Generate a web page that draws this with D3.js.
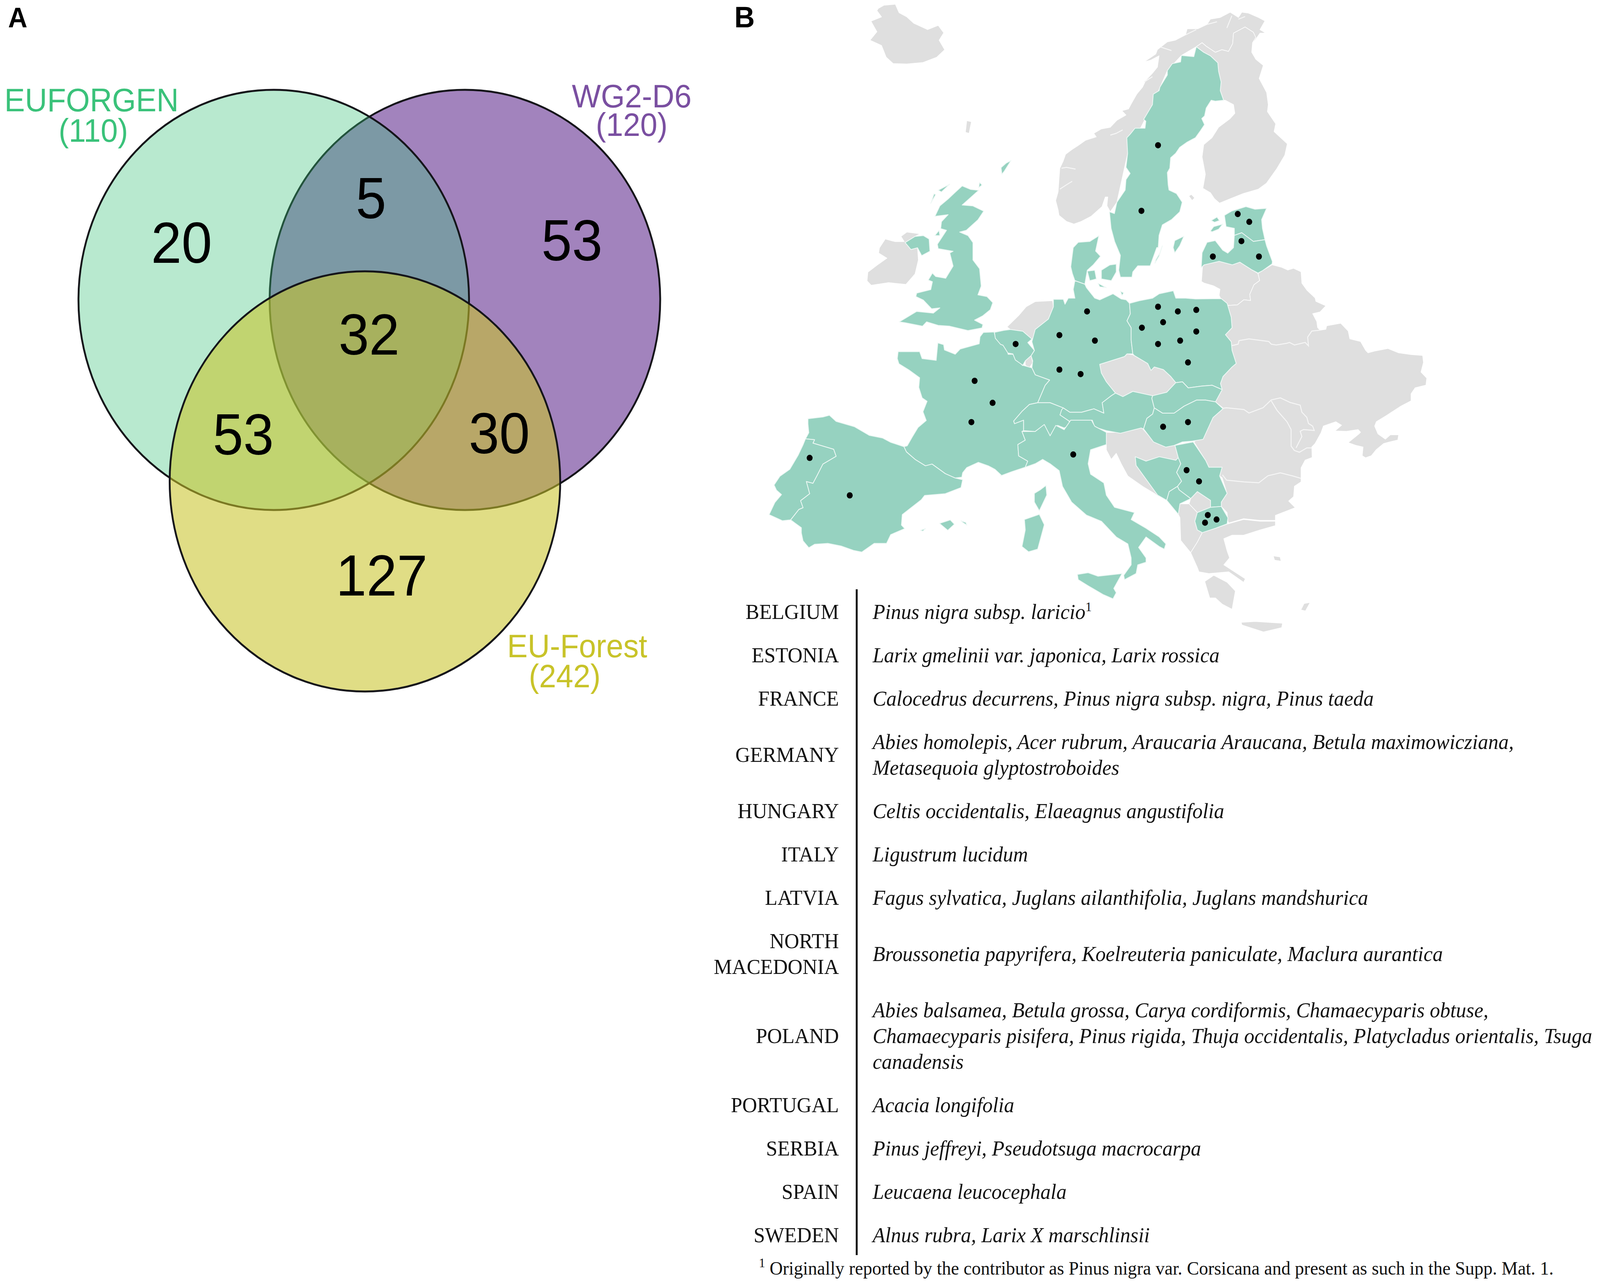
<!DOCTYPE html>
<html><head><meta charset="utf-8">
<script src="https://cdn.jsdelivr.net/npm/d3@7/dist/d3.min.js"></script>
<style>html,body{margin:0;padding:0;background:#fff;overflow:hidden}svg{display:block;width:100vw;height:100vh}</style></head>
<body><svg id="c" viewBox="0 0 4318 3288" preserveAspectRatio="none"></svg>
<script>
// ---------- Panel A data ----------
const vennNames=["WG2-D6","EUFORGEN","EU-Forest"];
const vennTotals=[120,110,242];
const vennColors=["#7a4fa1","#3ac27a","#c8c329"];
const vennAlpha=[0.7,0.36,0.57];
const vennCx=[0.489,-0.49,-0.023];
const vennCy=[0,0,0.864];
const regionCounts=[20,5,53,32,53,30,127];
const regionX=[-0.962,0.008,1.037,-0.002,-0.646,0.665,0.063];
const regionY=[-0.275,-0.488,-0.286,0.162,0.637,0.632,1.308];
const labelCentreX=[1.343,-1.423,1.064];
const labelCentreY=[-0.972,-0.953,1.645];
const totalCentreX=[1.343,-1.414,1.0];
const totalCentreY=[-0.836,-0.809,1.788];
// ---------- Panel B table data ----------
const countryRows=[["BELGIUM"],["ESTONIA"],["FRANCE"],["GERMANY"],["HUNGARY"],["ITALY"],["LATVIA"],["NORTH","MACEDONIA"],["POLAND"],["PORTUGAL"],["SERBIA"],["SPAIN"],["SWEDEN"]];
const speciesRows=[
["Pinus nigra subsp. laricio"],
["Larix gmelinii var. japonica, Larix rossica"],
["Calocedrus decurrens, Pinus nigra subsp. nigra, Pinus taeda"],
["Abies homolepis, Acer rubrum, Araucaria Araucana, Betula maximowicziana,","Metasequoia glyptostroboides"],
["Celtis occidentalis, Elaeagnus angustifolia"],
["Ligustrum lucidum"],
["Fagus sylvatica, Juglans ailanthifolia, Juglans mandshurica"],
["Broussonetia papyrifera, Koelreuteria paniculate, Maclura aurantica"],
["Abies balsamea, Betula grossa, Carya cordiformis, Chamaecyparis obtuse,","Chamaecyparis pisifera, Pinus rigida, Thuja occidentalis, Platycladus orientalis, Tsuga","canadensis"],
["Acacia longifolia"],
["Pinus jeffreyi, Pseudotsuga macrocarpa"],
["Leucaena leucocephala"],
["Alnus rubra, Larix X marschlinsii"]];
const footnote="Originally reported by the contributor as Pinus nigra var. Corsicana and present as such in the Supp. Mat. 1.";
const win=(x0,y0)=>a=>a.map(([u,v])=>[x0+u*700/1568,y0+v*700/1568]);
const V1=win(2060,800),V2=win(2700,1000),V3=win(2700,500),V4=win(3250,600),V5=win(2340,380),V6=win(2820,0);
const Vz=a=>a.map(([u,v])=>[1950+u*1950/1568,v*850/1568]);
const iceland=Vz([[338,40],[350,25],[375,20],[383,60],[400,80],[415,110],[445,140],[468,120],[480,155],[470,190],[482,235],[465,270],[435,295],[400,302],[370,300],[355,270],[345,215],[320,190],[335,150],[322,100],[345,80],[335,50]]);
const faroe=Vz([[530,570],[540,575],[535,630],[527,625]]);
const norway=V6([[1330,120],[1290,100],[1230,75],[1190,70],[1170,100],[1120,70],[1060,100],[1000,110],[980,140],[925,165],[860,165],[850,200],[790,230],[740,240],[680,285],[670,310],[600,355],[640,345],[690,320],[680,385],[650,420],[610,460],[590,500],[555,540],[525,590],[505,625],[465,635],[490,660],[435,690],[395,730],[340,740],[295,765],[310,785],[245,805],[200,835],[160,860],[125,885],[110,925],[90,965],[85,1030],[80,1100],[65,1150],[80,1205],[85,1235],[130,1270],[175,1285],[220,1270],[280,1240],[345,1185],[365,1130],[380,1130],[375,1180],[395,1215],[435,1160],[500,880],[650,600],[740,405],[825,318],[915,268],[950,245],[975,265],[1030,300],[1070,285],[1110,295],[1135,250],[1140,190],[1210,155],[1260,185],[1270,215],[1260,245],[1300,190],[1335,190],[1300,170]]);
const finland=V6([[915,268],[950,245],[975,265],[1030,300],[1070,285],[1110,295],[1135,250],[1140,190],[1210,155],[1260,185],[1275,215],[1255,245],[1250,300],[1275,340],[1320,375],[1295,450],[1340,530],[1350,600],[1345,640],[1395,710],[1385,755],[1465,825],[1450,890],[1400,970],[1340,1050],[1290,1085],[1200,1110],[1120,1140],[1055,1165],[1025,1140],[1000,1105],[955,1080],[970,1000],[950,900],[960,830],[1010,790],[1050,730],[1120,680],[1148,650],[1140,600],[1090,575],[1080,575],[1060,520],[1065,470],[1050,410],[1045,360],[1000,320],[960,300]]);
const aland=V6([[870,1125],[885,1115],[905,1135],[890,1150]]);
const ireland=V5([[110,520],[170,535],[225,535],[205,505],[240,480],[320,490],[290,505],[230,540],[265,580],[305,570],[310,640],[290,720],[235,780],[130,770],[25,785],[0,760],[5,710],[60,670],[120,630],[70,600],[75,570]]);
const lithuania=[...V4([[0,175],[90,155],[170,175],[215,160],[290,205],[325,225],[335,265],[300,290],[275,345],[280,380],[240,375],[200,405],[140,408],[100,370],[90,350],[95,315],[55,295],[0,280]]),...V3([[1215,495],[1222,405]])];
const netherlands=V3([[155,640],[210,610],[315,605],[320,640],[290,710],[210,770],[215,800],[190,825],[135,780],[60,770],[40,755],[110,690]]);
const luxembourg=V3([[150,950],[185,920],[195,960],[175,990],[150,975]]);
const czechia=V3([[600,970],[750,925],[765,910],[800,915],[890,965],[910,1005],[930,985],[985,1000],[1030,1040],[1060,1075],[1005,1130],[920,1150],[800,1125],[740,1155],[695,1135],[640,1070],[610,1020]]);
const croatiaSlovenia=V2([[640,240],[725,240],[850,210],[865,225],[925,290],[990,320],[1055,315],[1075,385],[1060,400],[960,380],[880,405],[815,380],[820,430],[950,600],[1010,650],[930,590],[860,550],[770,490],[730,420],[700,360],[670,395],[640,340],[640,310]]);
const kosovo=V2([[1150,620],[1190,580],[1270,630],[1270,670],[1190,700],[1140,650]]);
const albania=V2([[1085,650],[1140,650],[1190,700],[1175,750],[1190,800],[1220,815],[1190,870],[1150,930],[1090,860],[1085,730],[1075,710]]);
const greeceMain=V2([[1220,815],[1300,790],[1375,765],[1470,740],[1568,750],[1662,750],[1662,775],[1568,800],[1470,830],[1400,830],[1350,850],[1370,920],[1385,960],[1350,1000],[1480,1080],[1470,1100],[1380,1040],[1260,1050],[1200,1040],[1190,1015],[1150,930],[1190,870]]);
const peloponnese=V2([[1235,1095],[1290,1060],[1370,1100],[1420,1150],[1400,1255],[1340,1225],[1300,1190],[1265,1190]]);
const crete=V2([[1455,1330],[1540,1325],[1705,1335],[1700,1360],[1590,1385],[1460,1345]]);
const lesbos=Vz([[1195,2626],[1210,2631],[1212,2651],[1198,2646]]);
const rhodes=Vz([[1262,2851],[1275,2846],[1265,2886],[1255,2881]]);
const eastBlock=[...V4([[325,225],[340,215],[410,175],[470,190],[505,205],[540,195],[585,215],[590,280],[620,320],[670,365],[675,385],[735,410],[700,445],[655,455],[680,500],[685,535],[700,550],[735,545],[740,525],[825,510],[870,555],[880,600],[945,615],[975,665],[990,680],[1030,670],[1110,655],[1175,680],[1250,690],[1320,695],[1325,735],[1310,790],[1345,825],[1340,865],[1275,880],[1250,915],[1250,955],[1190,985],[1100,1040],[1040,1075],[1030,1100],[1050,1145],[1095,1175],[1125,1150],[1175,1150],[1170,1180],[1125,1190],[1085,1200],[1040,1235],[1010,1270],[975,1282],[955,1270],[960,1220],[915,1210],[870,1195],[935,1145],[945,1135],[930,1120],[860,1130],[790,1128],[830,1095],[795,1075],[720,1100],[705,1140],[670,1200],[650,1220],[652,1280],[610,1295],[585,1340],[585,1420],[545,1445],[540,1505],[510,1530],[550,1568]]),
 ...V2([[1662,716],[1662,745],[1568,745],[1470,735],[1380,760],[1375,750],[1370,700],[1335,665],[1335,640],[1370,590],[1340,500],[1325,490],[1340,440],[1260,440],[1240,400],[1170,295],[1225,250],[1270,150],[1345,100]]),
 ...V3([[1300,1185],[1340,1115],[1330,1080],[1345,1040],[1400,985],[1425,965],[1400,890],[1395,840],[1360,800],[1400,760],[1395,700],[1370,620],[1335,593]]),
 ...V4([[100,370],[140,408],[200,405],[240,375],[280,380],[275,345],[300,290],[335,265]])];
const grayShapes=[iceland,faroe,norway,finland,aland,ireland,lithuania,netherlands,luxembourg,czechia,croatiaSlovenia,kosovo,albania,greeceMain,peloponnese,crete,lesbos,rhodes,eastBlock];

const sweden=[...V6([[915,268],[960,300],[1000,320],[1045,360],[1050,410],[1065,470],[1060,520],[1080,575],[1030,580],[1005,575],[975,620],[965,665],[948,680],[965,715],[940,750],[910,790],[860,815],[815,845],[790,880],[760,905],[755,965],[740,990],[745,1060],[750,1090],[795,1110],[830,1160],[815,1215],[765,1260],[710,1290],[690,1350],[685,1420]]),
 ...V3([[945,300],[905,405],[830,405],[800,440],[795,470],[725,470],[715,430],[725,345],[690,265]]),
 ...V6([[421,1384],[400,1310],[390,1215],[420,1225],[435,1160],[485,1090],[490,1030],[515,995],[490,960],[500,880],[495,790],[515,770],[545,735],[605,735],[610,695],[597,685],[650,600],[655,540],[690,520],[695,500],[740,430],[740,405],[770,365],[820,355],[825,318],[900,325]])];
const gotland=V6([[785,1380],[840,1355],[815,1410],[785,1450],[775,1420]]);
const oland=V6([[710,1410],[695,1450],[670,1490],[665,1510],[690,1470]]);
const estonia=V6([[1085,1235],[1130,1210],[1215,1185],[1270,1200],[1340,1195],[1310,1260],[1315,1310],[1330,1375],[1260,1385],[1190,1335],[1145,1350],[1145,1310],[1095,1300]]);
const hiiumaa=V6([[1005,1265],[1040,1245],[1055,1265],[1025,1275]]);
const saaremaa=V6([[1000,1325],[1020,1300],[1075,1285],[1050,1315],[1010,1330]]);
const latvia=[...V6([[1145,1350],[1190,1335],[1260,1385],[1330,1375],[1340,1410],[1375,1500]]),...V4([[410,170],[350,210],[325,222],[290,205],[215,160],[170,175],[90,155],[0,175]]),...V6([[945,1535],[950,1450],[980,1390],[1030,1380],[1075,1435],[1105,1452],[1140,1420]])];
const britain=V5([[575,215],[625,235],[675,240],[640,270],[575,325],[640,330],[705,360],[670,410],[600,470],[560,480],[610,500],[640,540],[640,640],[680,690],[690,790],[670,840],[725,850],[760,885],[745,925],[700,960],[650,985],[700,1010],[695,1030],[610,1045],[500,1020],[430,1015],[360,995],[335,1020],[230,1000],[195,995],[300,935],[400,945],[440,915],[390,920],[340,870],[295,850],[300,830],[385,810],[395,765],[370,755],[395,715],[415,735],[475,745],[520,675],[500,600],[520,590],[430,575],[425,550],[480,470],[445,460],[450,420],[490,380],[410,390],[440,330],[490,290],[535,250]]);
const skye=V5([[430,240],[500,205],[450,250]]);
const lewis=V5([[385,315],[405,260],[415,265]]);
const mull=V5([[410,500],[435,470],[440,500]]);
const orkney=V5([[680,195],[695,210],[675,225]]);
const shetland=V5([[810,110],[840,85],[870,70],[830,130],[815,148]]);
const northIreland=V5([[230,540],[290,505],[340,500],[375,520],[380,590],[360,600],[330,615],[305,570],[265,580]]);
const jutland=V3([[595,232],[575,320],[605,350],[560,400],[525,430],[510,510],[450,490],[435,450],[425,410],[440,300],[470,270],[540,265]]);
const funen=V3([[525,435],[570,430],[580,480],[540,490]]);
const zealand=V3([[610,430],[660,400],[700,395],[700,440],[670,490],[610,480]]);
const lolland=V3([[590,505],[640,530],[600,525]]);
const bornholm=V3([[725,550],[745,560],[735,575]]);
const germany=V3([[320,597],[380,597],[390,625],[410,590],[450,590],[440,540],[450,490],[510,510],[520,530],[570,590],[600,600],[680,565],[730,595],[760,600],[780,620],[785,680],[765,720],[790,760],[790,830],[800,910],[765,910],[750,925],[600,970],[610,1020],[640,1070],[695,1135],[670,1150],[615,1190],[625,1250],[565,1225],[490,1245],[420,1245],[380,1220],[300,1190],[225,1190],[270,1090],[297,1060],[210,1030],[190,990],[195,950],[185,920],[205,890],[190,840],[210,770],[290,710],[320,640]]);
const poland=V3([[780,620],[840,605],[920,590],[960,565],[1045,548],[1060,590],[1120,590],[1180,595],[1335,593],[1370,620],[1395,700],[1400,760],[1360,800],[1395,840],[1400,890],[1425,965],[1400,985],[1345,1040],[1330,1080],[1340,1115],[1280,1090],[1215,1095],[1135,1105],[1100,1070],[1060,1075],[1030,1040],[985,1000],[930,985],[910,1005],[890,965],[810,920],[800,910],[790,830],[790,760],[765,720],[785,680]]);
const belgium=[...V5([[770,1055]]),...V3([[20,775],[60,770],[135,780],[190,825],[165,845],[205,890],[185,920],[150,950],[135,975],[90,945],[75,910],[45,905],[15,860],[0,855],[-31,820]])];
const france=[...V1([[1330,115],[1395,112],[1405,150],[1470,200],[1480,240],[1520,240],[1530,270],[1568,305]]),
 ...V3([[135,975],[190,990],[210,1030],[297,1060],[270,1090],[225,1190],[175,1200],[130,1240],[80,1295],[85,1310],[140,1290],[140,1350]]),
 ...V2([[130,235],[150,285],[105,310],[110,375],[165,405],[150,440],[70,465],[0,490]]),
 ...V1([[1440,935],[1400,900],[1360,880],[1300,860],[1230,890],[1205,920],[1200,945],[1160,950],[1100,925],[1020,870],[980,880],[920,845],[865,800],[850,770],[870,765],[900,715],[935,660],[985,620],[965,570],[990,510],[960,490],[940,430],[945,375],[880,330],[820,295],[810,265],[815,225],[945,225],[960,265],[1045,275],[1055,175],[1090,185],[1095,215],[1160,240],[1190,210],[1305,180],[1310,140]])];
const switzerland=V3([[225,1190],[300,1190],[380,1220],[360,1260],[415,1295],[420,1320],[385,1335],[345,1320],[300,1380],[265,1320],[210,1355],[140,1350],[140,1290],[85,1310],[80,1295],[130,1240],[175,1200]]);
const austria=V3([[380,1220],[420,1245],[490,1245],[565,1225],[625,1250],[615,1190],[670,1150],[695,1135],[740,1155],[800,1125],[920,1150],[915,1165],[930,1220],[920,1255],[885,1280],[865,1340],[850,1335],[725,1365],[640,1350],[570,1330],[555,1290],[430,1300],[415,1295],[360,1260],[370,1230]]);
const italy=V2([[130,235],[210,235],[265,195],[300,260],[335,200],[385,225],[425,170],[550,170],[570,205],[640,240],[640,310],[545,340],[530,420],[545,480],[625,530],[640,600],[690,670],[810,700],[790,740],[880,790],[960,840],[1000,880],[990,910],[960,895],[880,840],[835,900],[880,960],[880,985],[830,1000],[820,1050],[750,1085],[745,1060],[790,1000],[790,960],[770,880],[700,840],[610,750],[520,715],[430,640],[375,550],[355,460],[300,420],[255,395],[210,420],[150,440],[165,405],[110,375],[105,310],[150,285]]);
const sicily=V2([[465,1055],[530,1045],[590,1065],[735,1050],[685,1135],[700,1160],[680,1195],[620,1170],[530,1120],[470,1085]]);
const sardinia=V2([[145,740],[235,710],[265,770],[245,840],[225,910],[170,925],[130,895],[150,800]]);
const corsica=V2([[275,545],[280,600],[235,690],[205,640],[205,590],[240,570]]);
const mallorca=V1([[1065,1210],[1130,1190],[1155,1215],[1115,1250]]);
const menorca=V1([[1195,1195],[1225,1205],[1230,1220],[1205,1205]]);
const ibiza=V1([[950,1250],[980,1240],[965,1255]]);
const spain=V1([[270,610],[360,600],[400,590],[440,625],[550,655],[640,705],[720,720],[770,745],[850,770],[865,800],[920,845],[980,880],[1020,870],[1100,925],[1160,950],[1205,960],[1195,1005],[1100,1040],[975,1050],[955,1075],[840,1160],[835,1220],[855,1240],[770,1275],[745,1325],[670,1325],[595,1375],[545,1365],[470,1340],[390,1325],[310,1330],[275,1350],[240,1310],[230,1265],[230,1235],[165,1190],[215,1130],[240,1120],[225,1080],[280,1040],[260,970],[300,980],[325,935],[360,870],[440,825],[425,785],[300,750],[310,730],[255,725],[275,690],[270,640]]);
const portugal=V1([[255,725],[310,730],[300,750],[425,785],[440,825],[360,870],[325,935],[300,980],[260,970],[280,1040],[225,1080],[240,1120],[215,1130],[165,1190],[115,1195],[35,1160],[70,1090],[110,1045],[80,1020],[65,990],[100,940],[160,900],[210,820],[240,760]]);
const slovakia=V3([[1060,1075],[1100,1070],[1135,1105],[1215,1095],[1280,1090],[1340,1115],[1300,1185],[1240,1175],[1185,1175],[1110,1210],[1050,1250],[980,1250],[930,1220],[915,1165],[920,1150],[1005,1130]]);
const hungary=V3([[930,1220],[980,1250],[1050,1250],[1110,1210],[1185,1175],[1240,1175],[1300,1185],[1345,1225],[1285,1275],[1225,1400],[1160,1410],[1100,1415],[1050,1435],[1000,1445],[925,1415],[865,1340],[885,1280],[920,1255]]);
const bosnia=V2([[815,380],[880,405],[960,380],[1060,400],[1075,385],[1090,420],[1065,470],[1095,520],[1070,550],[1020,580],[1005,630],[950,600],[820,430]]);
const serbia=V2([[1055,315],[1165,295],[1240,400],[1260,440],[1340,440],[1325,490],[1370,590],[1335,640],[1335,665],[1270,670],[1270,630],[1190,580],[1150,620],[1080,570],[1070,550],[1095,520],[1065,470],[1090,420],[1075,385]]);
const montenegro=V2([[1020,580],[1070,550],[1080,570],[1150,620],[1085,650],[1075,710],[1005,630]]);
const macedonia=V2([[1190,700],[1270,670],[1335,665],[1375,730],[1370,765],[1300,790],[1220,815],[1190,800],[1175,750]]);
const tealShapes=[sweden,gotland,oland,estonia,hiiumaa,saaremaa,latvia,britain,skye,lewis,mull,orkney,shetland,northIreland,jutland,funen,zealand,lolland,bornholm,germany,poland,france,belgium,switzerland,austria,italy,sicily,sardinia,corsica,mallorca,menorca,ibiza,spain,portugal,slovakia,hungary,bosnia,serbia,montenegro,macedonia];
const borderLines=[
 V4([[160,640],[205,630],[210,610],[270,600],[390,615],[405,630],[435,635],[500,625],[515,620],[545,635],[610,620],[630,640],[625,590],[650,555],[700,550]]),
 V4([[110,998],[135,995],[240,1005],[270,1025],[355,995],[405,950],[460,938],[520,965],[580,980],[590,1020],[620,1050],[630,1085],[655,1100],[665,1125],[600,1120],[580,1130],[590,1160],[555,1225]]),
 V4([[405,955],[440,1010],[500,1075],[525,1120],[525,1215],[545,1240],[575,1250],[620,1225],[650,1225]]),
 V4([[110,1380],[135,1410],[240,1420],[330,1425],[385,1385],[460,1368],[530,1385],[585,1400]]),
 V6([[100,965],[130,960],[185,970]]),V6([[90,1085],[130,1060],[165,1040]]),V6([[395,775],[430,765],[470,745]]),
 V6([[700,270],[765,290]]),V6([[850,200],[915,170]]),V6([[980,140],[1040,125]]),V6([[1100,160],[1130,90]]),V6([[1170,110],[1210,95]]),V6([[600,470],[650,440]])
];
const studyPoints=Vz([[945,686],[909,996],[1118,1011],[1143,1048],[1126,1139],[1064,1212],[1164,1212],[791,1471],[945,1449],[988,1471],[1028,1464],[956,1522],[910,1548],[1028,1566],[731,1583],[808,1609],[636,1625],[945,1625],[993,1609],[1010,1712],[731,1746],[777,1767],[547,1799],[586,1903],[540,1994],[956,2016],[1010,1994],[189,2163],[276,2340],[761,2147],[1007,2221],[1034,2274],[1053,2433],[1072,2454],[1047,2469]]);

// ---------- drawing ----------
const svg=d3.select("#c");
svg.append("rect").attr("width",4318).attr("height",3288).attr("fill","#fff");
const serif="'Liberation Serif','Times New Roman',serif", sans="'Liberation Sans',Arial,sans-serif";

// Panel A
const vx=d3.scaleLinear([-1,1],[470,1524]);
const vy=d3.scaleLinear([-1,1],[230,1306]);
const A=svg.append("g");
A.selectAll("ellipse").data(vennNames).join("ellipse")
 .attr("cx",(d,i)=>vx(vennCx[i])).attr("cy",(d,i)=>vy(vennCy[i]))
 .attr("rx",vx(1)-vx(0)).attr("ry",vy(1)-vy(0))
 .attr("fill",(d,i)=>d3.color(vennColors[i]).copy({opacity:vennAlpha[i]}))
 .attr("stroke","#15151a").attr("stroke-width",5);
A.selectAll("text.n").data(regionCounts).join("text").attr("class","n")
 .attr("x",(d,i)=>vx(regionX[i])).attr("y",(d,i)=>vy(regionY[i])).attr("dy","0.36em")
 .attr("text-anchor","middle").attr("font-family",sans).attr("font-size",148).attr("fill","#000").text(d=>d);
vennNames.forEach((n,i)=>{
  A.append("text").attr("x",vx(labelCentreX[i])).attr("y",vy(labelCentreY[i])).attr("dy","0.36em").attr("text-anchor","middle").attr("font-family",sans).attr("font-size",83).attr("fill",vennColors[i]).text(n);
  A.append("text").attr("x",vx(totalCentreX[i])).attr("y",vy(totalCentreY[i])).attr("dy","0.36em").attr("text-anchor","middle").attr("font-family",sans).attr("font-size",83).attr("fill",vennColors[i]).text("("+vennTotals[i]+")");
});
svg.append("text").attr("x",22).attr("y",70).attr("font-family",sans).attr("font-weight","bold").attr("font-size",72).text("A");
svg.append("text").attr("x",1982).attr("y",70).attr("font-family",sans).attr("font-weight","bold").attr("font-size",76).text("B");

// Panel B map
const mx=d3.scaleLinear([0,4318],[0,4318]);
const my=d3.scaleLinear([0,3288],[0,3288]);
const shape=d3.line().x(d=>mx(d[0])).y(d=>my(d[1])).curve(d3.curveLinearClosed);
const open=d3.line().x(d=>mx(d[0])).y(d=>my(d[1]));
const M=svg.append("g");
M.selectAll("path.g").data(grayShapes).join("path").attr("class","g").attr("d",shape).attr("fill","#dfdfdf").attr("stroke","#fff").attr("stroke-width",1.5).attr("stroke-linejoin","round");
M.selectAll("path.b").data(borderLines).join("path").attr("class","b").attr("d",open).attr("fill","none").attr("stroke","#f6f6f6").attr("stroke-width",2.5);
M.selectAll("path.t").data(tealShapes).join("path").attr("class","t").attr("d",shape).attr("fill","#96d2c0").attr("stroke","#eef8f5").attr("stroke-width",2).attr("stroke-linejoin","round");
M.selectAll("circle").data(studyPoints).join("circle").attr("cx",d=>mx(d[0])).attr("cy",d=>my(d[1])).attr("r",8).attr("fill","#000");

// Panel B table
const lineGap=66, rowGap=111, fs=55.3;
let cursor=1567;
const T=svg.append("g").attr("font-family",serif).attr("font-size",fs).attr("fill","#111");
countryRows.forEach((c,i)=>{
  const sp=speciesRows[i], n=Math.max(c.length,sp.length), mid=cursor+(n-1)*lineGap/2;
  c.forEach((t,j)=>T.append("text").attr("x",2264).attr("y",mid+(j-(c.length-1)/2)*lineGap+18).attr("text-anchor","end").text(t));
  sp.forEach((t,j)=>{
    const e=T.append("text").attr("x",2355).attr("y",mid+(j-(sp.length-1)/2)*lineGap+18).attr("font-style","italic").text(t);
    if(i===0) e.append("tspan").attr("font-style","normal").attr("font-size",34).attr("dy",-20).text("1");
  });
  cursor+=(n-1)*lineGap+rowGap;
});
T.append("line").attr("x1",2312).attr("x2",2312).attr("y1",1509).attr("y2",3214).attr("stroke","#000").attr("stroke-width",5);
T.append("text").attr("x",2048).attr("y",3245).attr("font-size",34).text("1");
T.append("text").attr("x",2077).attr("y",3264).attr("font-size",49.1).text(footnote);
</script></body></html>
